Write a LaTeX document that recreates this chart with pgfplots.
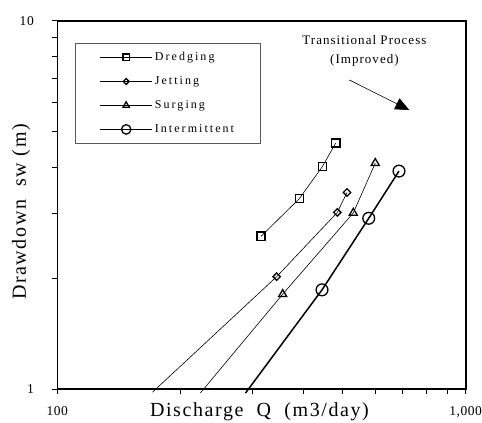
\documentclass[border=0pt]{standalone}
\usepackage{fontspec}
\setmainfont{Liberation Serif}[LetterSpace=8]
\newfontfamily\legfont{Liberation Serif}[LetterSpace=17]
\newfontfamily\tickfont{Liberation Serif}[LetterSpace=4]
\usepackage{pgfplots}
\pgfplotsset{compat=1.18}
\usetikzlibrary{arrows.meta}
\begin{document}
\begin{tikzpicture}
\useasboundingbox (-57.3pt,-34pt) rectangle (424.7pt,389pt);
\begin{axis}[
  scale only axis, width=408.4pt, height=368pt,
  xmode=log, ymode=log, xmin=100, xmax=1000, ymin=1, ymax=10,
  axis line style={line width=1.6pt},
  xtick={100,1000}, xticklabels={100,{1,000}},
  ytick={1,10}, yticklabels={1,10},
  minor xtick={200,300,400,500,600,700,800,900},
  minor ytick={2,3,4,5,6,7,8,9},
  tick align=outside, xtick pos=bottom, ytick pos=left,
  major tick length=5pt, minor tick length=5pt,
  every tick/.style={line width=1pt, black},
  xticklabel style={font=\tickfont\fontsize{13.5}{15}\selectfont, yshift=-9pt},
  yticklabel style={font=\tickfont\fontsize{13.5}{15}\selectfont, xshift=-15pt},
  /pgf/number format/assume math mode=true,
  xlabel={Discharge\ \ Q\ \ (m3/day)},
  ylabel={Drawdown\ \ sw (m)},
  label style={font=\fontsize{20}{24}\selectfont},
  xlabel style={at={(axis description cs:0.495,-0.0625)}, anchor=center},
  ylabel style={at={(axis description cs:-0.089,0.481)}, anchor=center},
  clip=false,
  legend image code/.code={\draw[#1, mark repeat=2, mark phase=2, every mark/.append style={scale=0.8}] plot coordinates {(0pt,0pt) (26pt,0pt) (52pt,0pt)};},
  legend style={at={(rel axis cs:0.0434,0.94)}, anchor=north west,
    draw=gray!70!black, line width=0.8pt, inner xsep=24pt, inner ysep=7pt,
    font=\legfont\fontsize{12}{14}\selectfont, row sep=10.5pt,
    nodes={font=\legfont\fontsize{12}{14}\selectfont}},
  legend cell align=left,
]
\addplot[black, line width=0.6pt, mark=square, mark size=4.1pt, mark options={line width=1.4pt, fill=white, solid}]
  coordinates {(315.4,2.60) (391.4,3.29) (445.6,4.02) (480.5,4.66)};
\addlegendentry{Dredging}
\addplot[black, line width=0.6pt, mark=square, mark size=2.6pt, mark options={line width=1.3pt, fill=white, solid, rotate=45}]
  coordinates {(344.5,2.02) (484.9,3.02) (512.1,3.42)};
\addlegendentry{Jetting}
\addplot[black, line width=0.6pt, mark=triangle, mark size=4.6pt, mark options={line width=1.3pt, fill=white, solid}]
  coordinates {(356.4,1.81) (530.6,3.01) (600.6,4.11)};
\addlegendentry{Surging}
\addplot[black, line width=1.5pt, mark=o, mark size=5.9pt, mark options={line width=1.3pt, fill=white, solid}]
  coordinates {(444.8,1.86) (578.8,2.91) (686.5,3.91)};
\addlegendentry{Intermittent}
\addplot[black, line width=0.6pt, forget plot] coordinates {(171,0.98) (344.5,2.02)};
\addplot[black, line width=0.6pt, forget plot] coordinates {(224,0.975) (356.4,1.81)};
\addplot[black, line width=1.5pt, forget plot] coordinates {(289,0.975) (444.8,1.86)};
\node[align=center, font=\fontsize{13}{19.3}\selectfont] at (rel axis cs:0.752,0.918) {Transitional Process\\(Improved)};
\draw[-{Triangle[length=14pt,width=12pt]}, line width=0.6pt] (rel axis cs:0.715,0.8397) -- (rel axis cs:0.862,0.758);
\end{axis}
\end{tikzpicture}
\end{document}
